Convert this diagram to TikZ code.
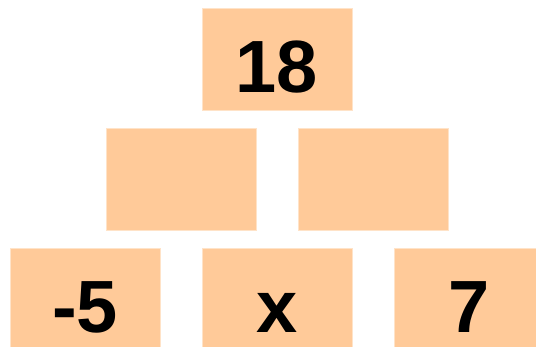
\documentclass[tikz,border=0pt]{standalone}
\usepackage{fontspec}
\setmainfont{Liberation Sans}
\usepackage{xcolor}
\usepackage{tikz}
\usetikzlibrary{positioning}

\definecolor{peach}{HTML}{FFCA99}
\definecolor{peachline}{HTML}{FFE3C8}

\begin{document}
\begin{tikzpicture}[
  x=1pt, y=-1pt,
  brick/.style={
    rectangle,
    draw=peachline,
    line width=0.8pt,
    fill=peach,
    minimum width=150pt,
    minimum height=102pt,
    inner sep=0pt,
    font=\fontsize{74}{74}\selectfont\bfseries,
    text height=68pt,
    text depth=0pt
  }
]

\clip (0,0) rectangle (536,347);
\useasboundingbox (0,0) rectangle (536,347);

% top row
\node[brick] (top) at (277, 59) {18};

% middle row
\node[brick] (midl) at (181, 179) {};
\node[brick] (midr) at (373, 179) {};

% bottom row
\node[brick] (botl) at (85, 299) {-5};
\node[brick] (botm) at (277, 299) {x};
\node[brick] (botr) at (469, 299) {7};

\end{tikzpicture}
\end{document}
